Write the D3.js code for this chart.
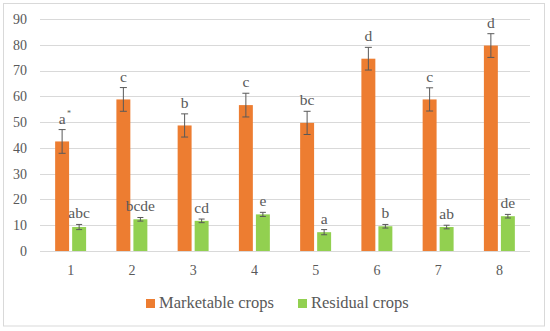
<!DOCTYPE html>
<html>
<head>
<meta charset="utf-8">
<script src="https://cdn.jsdelivr.net/npm/d3@7"></script>
<style>
  body { margin: 0; background: #fff; }
  text { font-family: "Liberation Serif", serif; fill: #595959; }
</style>
</head>
<body>
<script>
// Werte
const categories = ["1", "2", "3", "4", "5", "6", "7", "8"];
const seriesNames = ["Marketable crops", "Residual crops"];
const marketable = [42.5, 58.8, 48.7, 56.6, 49.7, 74.6, 58.8, 79.7];
const marketableErr = [4.6, 4.6, 4.5, 4.6, 4.5, 4.4, 4.5, 4.6];
const marketableLetters = ["a", "c", "b", "c", "bc", "d", "c", "d"];
const residual = [9.3, 12.3, 11.7, 14.2, 7.3, 9.6, 9.3, 13.5];
const residualErr = [1.0, 0.7, 0.7, 0.8, 1.0, 0.7, 0.7, 0.7];
const residualLetters = ["abc", "bcde", "cd", "e", "a", "b", "ab", "de"];
const yTicks = [0, 10, 20, 30, 40, 50, 60, 70, 80, 90];
const colors = ["#ED7D31", "#92D050"];

const width = 550;
const height = 331;

let svg = d3.select("body").append("svg")
  .attr("width", width)
  .attr("height", height);

// Rahmen
svg.append("rect")
  .attr("x", 3.5).attr("y", 3.5)
  .attr("width", 541).attr("height", 322.5)
  .attr("fill", "none")
  .attr("stroke", "#d9d9d9");

let y = d3.scaleLinear().domain([0, 90]).range([251, 19]);
let x0 = d3.scaleBand().domain(categories).range([40, 530]).padding(0);
let x1 = d3.scaleBand().domain(seriesNames)
  .range([0, x0.bandwidth()])
  .paddingInner(0.18)
  .paddingOuter(0.89);

// Gitterlinien
svg.append("g")
  .selectAll("line")
  .data(yTicks)
  .enter()
  .append("line")
  .attr("x1", 40).attr("x2", 530)
  .attr("y1", (d) => Math.round(y(d)) + 0.5)
  .attr("y2", (d) => Math.round(y(d)) + 0.5)
  .attr("stroke", "#d9d9d9")
  .attr("stroke-width", 1);

// y-Achse Beschriftung
svg.append("g")
  .selectAll("text")
  .data(yTicks)
  .enter()
  .append("text")
  .attr("x", 27)
  .attr("y", (d) => y(d))
  .attr("dy", "0.35em")
  .attr("text-anchor", "end")
  .style("font-size", "14px")
  .text((d) => d);

// x-Achse Beschriftung
svg.append("g")
  .selectAll("text")
  .data(categories)
  .enter()
  .append("text")
  .attr("x", (d) => x0(d) + x0.bandwidth() / 2)
  .attr("y", 274.5)
  .attr("text-anchor", "middle")
  .style("font-size", "14px")
  .text((d) => d);

let series = [
  { name: seriesNames[0], values: marketable, err: marketableErr, letters: marketableLetters, color: colors[0], cap: 3.5 },
  { name: seriesNames[1], values: residual, err: residualErr, letters: residualLetters, color: colors[1], cap: 3 },
];

series.forEach((s) => {
  let rows = categories.map((c, i) => ({
    cat: c, value: s.values[i], err: s.err[i], letter: s.letters[i],
  }));
  let cx = (d) => x0(d.cat) + x1(s.name) + x1.bandwidth() / 2;

  let g = svg.append("g");

  g.selectAll("rect")
    .data(rows)
    .enter()
    .append("rect")
    .attr("x", (d) => x0(d.cat) + x1(s.name))
    .attr("y", (d) => y(d.value))
    .attr("width", x1.bandwidth())
    .attr("height", (d) => y(0) - y(d.value))
    .attr("fill", s.color);

  // Fehlerbalken
  let eb = g.selectAll(".err")
    .data(rows)
    .enter()
    .append("g")
    .attr("class", "err")
    .attr("stroke", "#595959")
    .attr("stroke-width", 1);

  eb.append("line")
    .attr("x1", cx).attr("x2", cx)
    .attr("y1", (d) => y(d.value + d.err))
    .attr("y2", (d) => y(d.value - d.err));
  eb.append("line")
    .attr("x1", (d) => cx(d) - s.cap).attr("x2", (d) => cx(d) + s.cap)
    .attr("y1", (d) => y(d.value + d.err))
    .attr("y2", (d) => y(d.value + d.err));
  eb.append("line")
    .attr("x1", (d) => cx(d) - s.cap).attr("x2", (d) => cx(d) + s.cap)
    .attr("y1", (d) => y(d.value - d.err))
    .attr("y2", (d) => y(d.value - d.err));

  // Buchstaben
  g.selectAll(".letter")
    .data(rows)
    .enter()
    .append("text")
    .attr("class", "letter")
    .attr("x", cx)
    .attr("y", (d) => y(d.value + d.err) - 6)
    .attr("text-anchor", "middle")
    .style("font-size", "15.5px")
    .text((d) => d.letter);
});

// Sternchen neben dem ersten "a"
svg.append("text")
  .attr("x", x0("1") + x1(seriesNames[0]) + x1.bandwidth() / 2 + 5)
  .attr("y", y(marketable[0] + marketableErr[0]) - 14)
  .style("font-size", "8px")
  .text("*");

// Legende
let legendX = [146, 298];
let legend = svg.append("g")
  .selectAll("g")
  .data(seriesNames)
  .enter()
  .append("g")
  .attr("transform", (d, i) => `translate(${legendX[i]},299)`);

legend.append("rect")
  .attr("width", 9)
  .attr("height", 9)
  .attr("fill", (d, i) => colors[i]);

legend.append("text")
  .attr("x", 13)
  .attr("y", 9)
  .style("font-size", "16.5px")
  .text((d) => d);
</script>
</body>
</html>
